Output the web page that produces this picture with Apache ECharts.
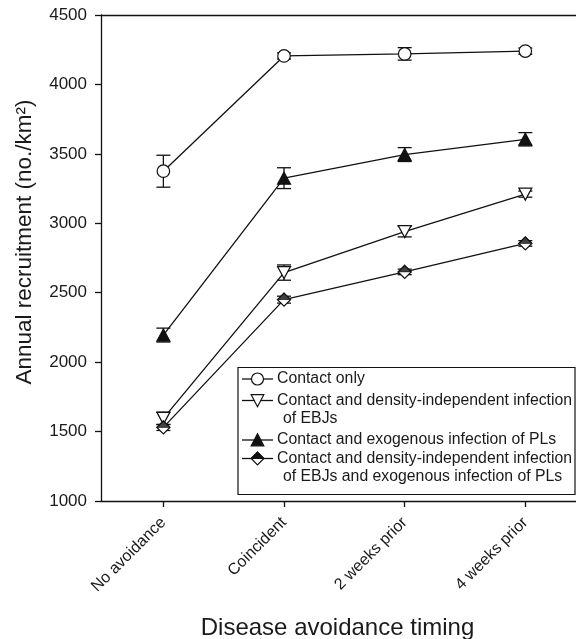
<!DOCTYPE html>
<html><head><meta charset="utf-8">
<script src="https://cdn.jsdelivr.net/npm/echarts@6/dist/echarts.min.js"></script>
<style>html,body{margin:0;padding:0;background:#fff}#c{width:576px;height:639px}</style>
</head><body><div id="c"></div>
<script>
const categories = ['No avoidance', 'Coincident', '2 weeks prior', '4 weeks prior'];
const yTicks = [1000, 1500, 2000, 2500, 3000, 3500, 4000, 4500];
const contactOnly = [3375, 4205, 4220, 4240];
const contactOnlyErr = [115, 22, 45, 22];
const densityEBJ = [1595, 2645, 2940, 3210];
const densityEBJErr = [45, 55, 38, 22];
const exoPL = [2195, 3325, 3495, 3605];
const exoPLErr = [50, 75, 50, 48];
const bothInf = [1530, 2450, 2650, 2855];
const bothInfErr = [22, 25, 20, 20];
const legendLines = [
  ['Contact only'],
  ['Contact and density-independent infection', 'of EBJs'],
  ['Contact and exogenous infection of PLs'],
  ['Contact and density-independent infection', 'of EBJs and exogenous infection of PLs']
];
const yTitle = 'Annual recruitment (no./km²)';
const xTitle = 'Disease avoidance timing';

const FONT = '"Liberation Sans", Arial, Helvetica, sans-serif';
const TXT = '#1a1a1a';
const LW = 1.3;

const chart = echarts.init(document.getElementById('c'), null, {renderer: 'canvas'});

function pts(vals) { return vals.map((v, i) => [i, v]); }
function errSeries(vals, errs) {
  return {
    type: 'custom', silent: true, z: 1,
    renderItem: function (params, api) {
      const x = api.value(0), lo = api.value(1), hi = api.value(2);
      const p1 = api.coord([x, hi]), p2 = api.coord([x, lo]);
      const w = 7;
      const st = {stroke: '#111', lineWidth: LW};
      return {type: 'group', children: [
        {type: 'line', shape: {x1: p1[0], y1: p1[1], x2: p2[0], y2: p2[1]}, style: st},
        {type: 'line', shape: {x1: p1[0] - w, y1: p1[1], x2: p1[0] + w, y2: p1[1]}, style: st},
        {type: 'line', shape: {x1: p2[0] - w, y1: p2[1], x2: p2[0] + w, y2: p2[1]}, style: st}
      ]};
    },
    data: vals.map((v, i) => [i, v - errs[i], v + errs[i]])
  };
}
function lineSeries(vals, symbol, fill, size, rotate) {
  return {
    type: 'line', z: 3, data: pts(vals), symbol: symbol, symbolSize: size,
    symbolRotate: rotate || 0, showSymbol: true, silent: true,
    lineStyle: {color: '#111', width: LW},
    itemStyle: {color: fill, borderColor: '#111', borderWidth: 1.2}
  };
}

// legend graphics
const lg = [];
lg.push({type: 'rect', shape: {x: 238, y: 367.5, width: 337, height: 127},
  style: {fill: '#fff', stroke: '#111', lineWidth: 1.2}, z: 100});
const rowY = [379, 400.5, 440, 458.5];
const x0 = 242, x1 = 273, mx = 257.5;
function marker(i, cy) {
  const s = 6.3;
  if (i === 0) return [{type: 'circle', shape: {cx: mx, cy: cy, r: 6}, style: {fill: '#fff', stroke: '#111', lineWidth: 1.2}, z: 102}];
  if (i === 1) return [{type: 'polygon', shape: {points: [[mx - s, cy - s + 0.5], [mx + s, cy - s + 0.5], [mx, cy + s]]}, style: {fill: '#fff', stroke: '#111', lineWidth: 1.2}, z: 102}];
  if (i === 2) return [{type: 'polygon', shape: {points: [[mx, cy - s], [mx + s, cy + s - 0.5], [mx - s, cy + s - 0.5]]}, style: {fill: '#111', stroke: '#111', lineWidth: 1.2}, z: 102}];
  return [
    {type: 'polygon', shape: {points: [[mx, cy - s], [mx + s, cy], [mx, cy + s], [mx - s, cy]]}, style: {fill: '#fff', stroke: '#111', lineWidth: 1.2}, z: 102},
    {type: 'polygon', shape: {points: [[mx, cy - s], [mx + s, cy], [mx - s, cy]]}, style: {fill: '#111', stroke: '#111', lineWidth: 1.2}, z: 103}
  ];
}
legendLines.forEach((lines, i) => {
  const cy = rowY[i];
  lg.push({type: 'line', shape: {x1: x0, y1: cy, x2: x1, y2: cy}, style: {stroke: '#111', lineWidth: LW}, z: 101});
  marker(i, cy).forEach(m => lg.push(m));
  lines.forEach((t, j) => {
    lg.push({type: 'text', x: j === 0 ? 277 : 283, y: cy + j * 18.5, z: 104,
      style: {text: t, fill: TXT, font: '15.8px ' + FONT, textAlign: 'left', textVerticalAlign: 'middle'}});
  });
});
lg.push({type: 'text', x: 25, y: 242, rotation: Math.PI / 2,
  style: {text: yTitle, fill: TXT, font: '22.5px ' + FONT, textAlign: 'center', textVerticalAlign: 'middle'}});
lg.push({type: 'text', x: 337.5, y: 628,
  style: {text: xTitle, fill: TXT, font: '24px ' + FONT, textAlign: 'center', textVerticalAlign: 'middle'}});

const option = {
  animation: false,
  backgroundColor: '#fff',
  grid: {left: 101, right: 0, top: 15, bottom: 138, containLabel: false},
  xAxis: [{
    type: 'value', min: -0.517, max: 3.42, position: 'bottom',
    axisLine: {show: true, onZero: false, lineStyle: {color: '#111', width: LW}},
    axisTick: {show: true, inside: false, length: 6, customValues: [0, 1, 2, 3], lineStyle: {color: '#111', width: LW}},
    axisLabel: {show: true, customValues: [0, 1, 2, 3], rotate: 45, margin: 19,
      formatter: v => categories[Math.round(v)] || '',
      fontFamily: FONT, fontSize: 16, color: TXT},
    splitLine: {show: false}
  }, {
    type: 'value', min: -0.517, max: 3.42, position: 'top',
    axisLine: {show: true, onZero: false, lineStyle: {color: '#111', width: LW}},
    axisTick: {show: false}, axisLabel: {show: false}, splitLine: {show: false}
  }],
  yAxis: {
    type: 'value', min: yTicks[0], max: yTicks[yTicks.length - 1], interval: 500,
    axisLine: {show: true, onZero: false, lineStyle: {color: '#111', width: LW}},
    axisTick: {show: true, inside: false, length: 6, lineStyle: {color: '#111', width: LW}},
    axisLabel: {fontFamily: FONT, fontSize: 17, color: TXT, margin: 14, formatter: v => String(v)},
    splitLine: {show: false}
  },
  series: [
    errSeries(contactOnly, contactOnlyErr),
    errSeries(densityEBJ, densityEBJErr),
    errSeries(exoPL, exoPLErr),
    errSeries(bothInf, bothInfErr),
    lineSeries(contactOnly, 'circle', '#fff', 12.5),
    lineSeries(exoPL, 'triangle', '#111', [13, 12]),
    lineSeries(densityEBJ, 'triangle', '#fff', [13, 12], 180),
    lineSeries(bothInf, 'diamond', '#fff', [13, 13]),
    {
      type: 'scatter', z: 4, silent: true, data: pts(bothInf), symbol: 'triangle',
      symbolSize: [13, 6.5], symbolOffset: [0, -3.25],
      itemStyle: {color: '#111', borderColor: '#111', borderWidth: 1}
    }
  ],
  graphic: lg
};
chart.setOption(option);
</script></body></html>
